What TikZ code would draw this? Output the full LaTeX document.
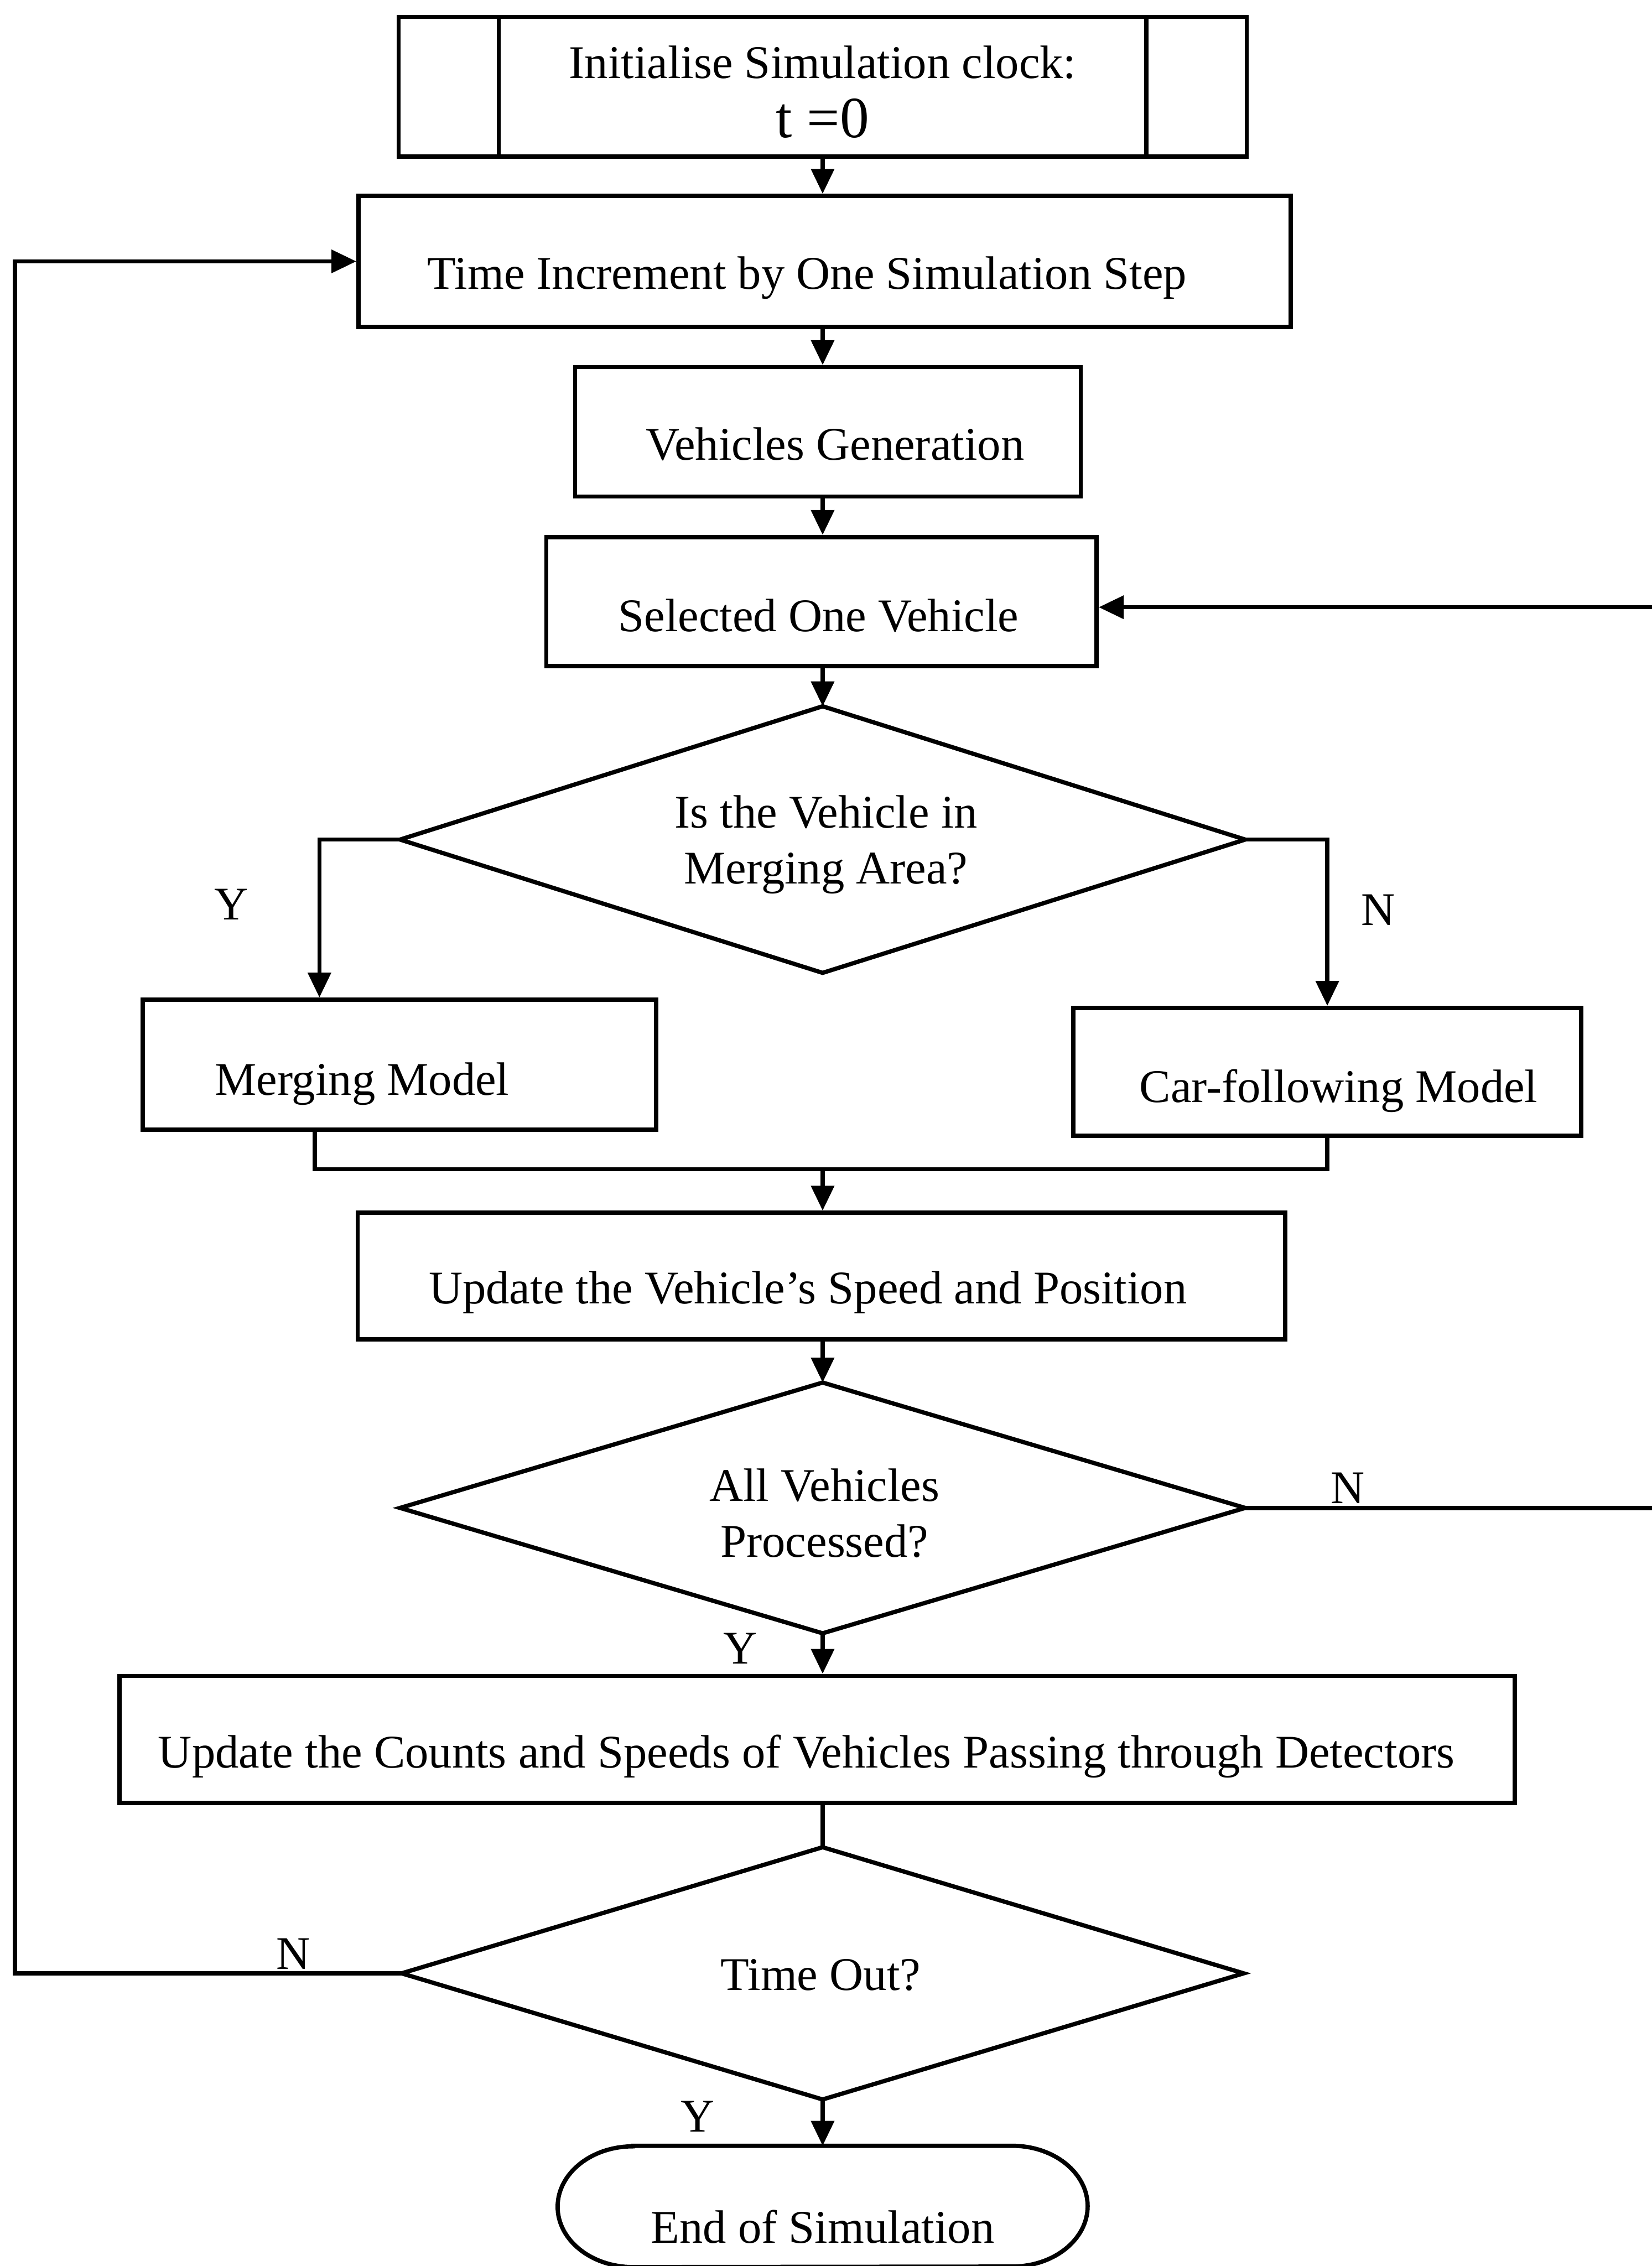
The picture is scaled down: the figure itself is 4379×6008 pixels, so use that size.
\documentclass[tikz,border=0pt]{standalone}
\usepackage{fontspec}
\setmainfont{Liberation Serif}
\usetikzlibrary{arrows.meta}
% #1 = twice the horizontal shift, #2 = raise of first baseline, #3 = text
\newcommand\txtpos[3]{\makebox[0pt]{\hspace*{#1}\raisebox{#2}[0pt][0pt]{#3}}}
\newcommand\twolines[2]{\begin{tabular}[t]{@{}c@{}}#1\\#2\end{tabular}}
\begin{document}
\begin{tikzpicture}[x=0.01cm,y=-0.01cm,
  ln/.style={line width=3.2pt, line join=miter},
  arr/.style={ln, -{Triangle[length=0.66cm,width=0.6cm]}},
  boxnode/.style={draw, ln, rectangle, inner sep=0pt, font=\fontsize{35.3}{42.1}\selectfont},
  plainnode/.style={rectangle, inner sep=0pt, font=\fontsize{35.3}{42.1}\selectfont},
  lab/.style={inner sep=0pt, font=\fontsize{35.3}{42.1}\selectfont}]
\useasboundingbox (0,0) rectangle (4379,6008);

\coordinate (ax) at (2181,0);
\coordinate (rt) at (4460,0);
\coordinate (lf) at (40,0);

% nodes
\node[boxnode, minimum width=22.47cm, minimum height=3.70cm] (init) at (2181,230)
  {\txtpos{0cm}{0.22cm}{Initialise Simulation clock:}\txtpos{0cm}{-1.35cm}{\fontsize{44}{50}\selectfont t =0}};
\draw[ln] ([xshift=2.71cm]init.north west) -- ([xshift=2.71cm]init.south west);
\draw[ln] ([xshift=-2.71cm]init.north east) -- ([xshift=-2.71cm]init.south east);

\node[boxnode, minimum width=24.70cm, minimum height=3.47cm] (inc) at (2186,693)
  {\txtpos{-0.92cm}{-0.74cm}{Time Increment by One Simulation Step}};
\node[boxnode, minimum width=13.40cm, minimum height=3.43cm] (gen) at (2195,1145)
  {\txtpos{0.38cm}{-0.75cm}{Vehicles Generation}};
\node[boxnode, minimum width=14.58cm, minimum height=3.42cm] (sel) at (2178,1595)
  {\txtpos{-0.16cm}{-0.80cm}{Selected One Vehicle}};

\node[plainnode, minimum width=22.38cm, minimum height=7.05cm] (d1) at (2181,2226)
  {\txtpos{0.18cm}{0.31cm}{\twolines{Is the Vehicle in}{Merging Area?}}};
\draw[ln] (d1.north) -- (d1.east) -- (d1.south) -- (d1.west) -- cycle;

\node[boxnode, minimum width=13.60cm, minimum height=3.45cm] (merge) at (1059,2823)
  {\txtpos{-1.98cm}{-0.80cm}{Merging Model}};
\node[boxnode, minimum width=13.46cm, minimum height=3.39cm] (car) at (3519,2842)
  {\txtpos{0.60cm}{-0.80cm}{Car-following Model}};

\node[boxnode, minimum width=24.58cm, minimum height=3.35cm] (upd) at (2178,3383)
  {\txtpos{-0.72cm}{-0.74cm}{Update the Vehicle’s Speed and Position}};

\node[plainnode, minimum width=22.38cm, minimum height=6.63cm] (d2) at (2181,3998)
  {\txtpos{0.10cm}{0.18cm}{\twolines{All Vehicles}{Processed?}}};
\draw[ln] (d2.north) -- (d2.east) -- (d2.south) -- (d2.west) -- cycle;

\node[boxnode, minimum width=36.97cm, minimum height=3.37cm] (cnt) at (2166,4612)
  {\txtpos{-0.56cm}{-0.75cm}{Update the Counts and Speeds of Vehicles Passing through Detectors}};

\node[plainnode, minimum width=22.30cm, minimum height=6.67cm] (d3) at (2181,5232)
  {\txtpos{-0.10cm}{-0.45cm}{Time Out?}};
\draw[ln] (d3.north) -- (d3.east) -- (d3.south) -- (d3.west) -- cycle;

\node[plainnode, minimum width=14.03cm, minimum height=3.20cm] (end) at (2181,5850)
  {\txtpos{0cm}{-0.97cm}{End of Simulation}};
\draw[ln] ([xshift=2cm]end.north west) -- ([xshift=-2cm]end.north east)
  arc[start angle=90, end angle=-90, x radius=2cm, y radius=1.6cm]
  -- ([xshift=2cm]end.south west)
  arc[start angle=270, end angle=90, x radius=2cm, y radius=1.6cm] -- cycle;

% labels
\node[lab] (y1) at (613,2398) {Y};
\node[lab] (n1) at (3654,2413) {N};
\node[lab] (n2) at (3573,3945) {N};
\node[lab] (y2) at (1962,4371) {Y};
\node[lab] (n3) at (777,5180) {N};
\node[lab] (y3) at (1850,5612) {Y};

% connectors
\draw[arr] (ax |- init.south) -- (ax |- inc.north);
\draw[arr] (ax |- inc.south) -- (ax |- gen.north);
\draw[arr] (ax |- gen.south) -- (ax |- sel.north);
\draw[arr] (ax |- sel.south) -- (d1.north);
\draw[arr] (d1.west) -| ([xshift=-2.12cm]merge.north);
\draw[arr] (d1.east) -| (car.north);
\coordinate (jn) at (2181,3100);
\draw[ln] ([xshift=-2.24cm]merge.south) |- (jn) -| (car.south);
\draw[arr] (jn) -- (ax |- upd.north);
\draw[arr] (ax |- upd.south) -- (d2.north);
\draw[arr] (d2.east) -- (d2.east -| rt) |- ([yshift=-0.15cm]sel.east);
\draw[arr] (d2.south) -- (ax |- cnt.north);
\draw[ln] (ax |- cnt.south) -- (d3.north);
\draw[arr] (d3.west) -- (d3.west -| lf) |- (inc.west);
\draw[arr] (d3.south) -- (end.north);
\end{tikzpicture}
\end{document}
